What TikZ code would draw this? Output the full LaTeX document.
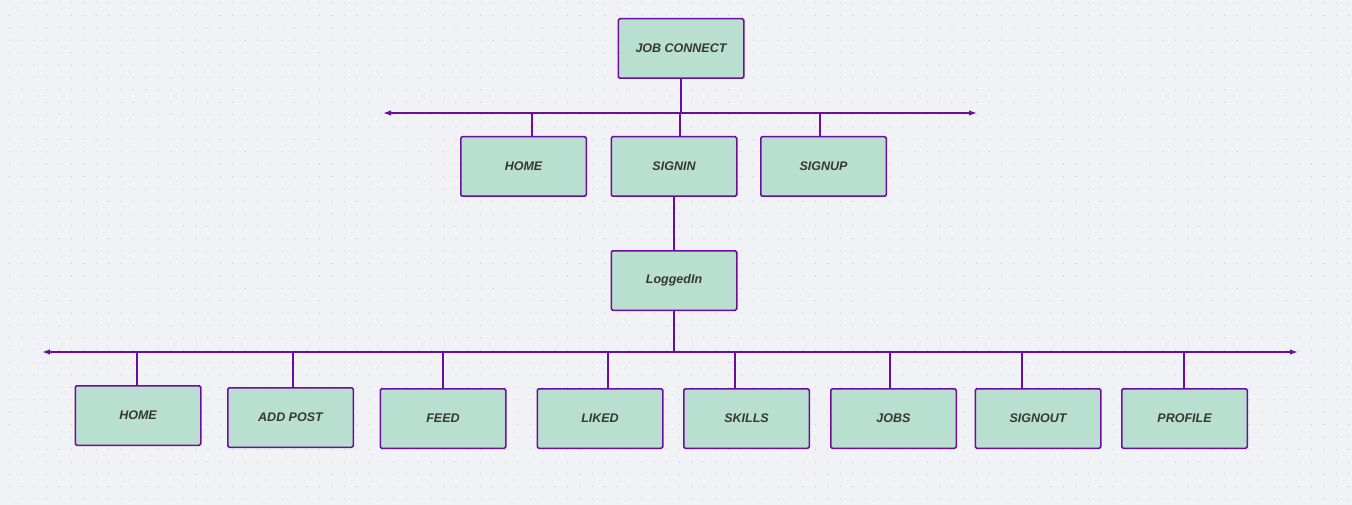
\documentclass[tikz,border=0pt]{standalone}
\usepackage{fontspec}
\setmainfont{Liberation Sans}
\usetikzlibrary{arrows.meta}
\definecolor{bgcol}{RGB}{241,242,245}
\definecolor{dotcol}{RGB}{205,207,212}
\definecolor{boxfill}{RGB}{184,223,207}
\definecolor{boxline}{RGB}{108,12,160}
\definecolor{textcol}{RGB}{55,55,55}
\begin{document}
\begin{tikzpicture}[x=1pt,y=-1pt,
    page/.style={minimum width=125.5pt,minimum height=59.5pt,draw=boxline,fill=boxfill,
      line width=1.5pt,rounded corners=1.5pt,text=textcol,
      font=\fontsize{12.5}{15}\selectfont\bfseries\itshape},
    link/.style={draw=boxline,line width=1.4pt},
    bus/.style={link,{Latex[length=8pt,width=5.5pt]}-{Latex[length=8pt,width=5.5pt]}}]
      \fill[bgcol] (0,0) rectangle (1352,505);
      \useasboundingbox (0,0) rectangle (1352,505);
      \foreach \i in {0,...,108}
        \foreach \j in {0,...,40}
          \fill[dotcol] (9.5+12.4*\i,3+12.4*\j) circle (0.7pt);

      \node[page] (job)     at (681,48.5)    {JOB CONNECT};
      \node[page] (home)    at (523.5,166.5) {HOME};
      \node[page] (signin)  at (674,166.5)   {SIGNIN};
      \node[page] (signup)  at (823.5,166.5) {SIGNUP};
      \node[page] (logged)  at (674,280.5)   {LoggedIn};

      \node[page] (uhome)   at (138,415.5)   {HOME};
      \node[page] (addpost) at (290.5,417.5) {ADD POST};
      \node[page] (feed)    at (443,418.5)   {FEED};
      \node[page] (liked)   at (600,418.5)   {LIKED};
      \node[page] (skills)  at (746.5,418.5) {SKILLS};
      \node[page] (jobs)    at (893.5,418.5) {JOBS};
      \node[page] (signout) at (1038,418.5)  {SIGNOUT};
      \node[page] (profile) at (1184.5,418.5){PROFILE};

      % top bus
      \coordinate (tl) at (383,113);
      \coordinate (tr) at (977,113);
      \coordinate (th) at (532,113);
      \coordinate (ti) at (680,113);
      \coordinate (tu) at (820,113);
      \path[bus] (tl) -- (tr);
      \path[link] (job.south) -- (job.south |- tl)
                  (th) -- (th |- home.north)
                  (ti) -- (ti |- signin.north)
                  (tu) -- (tu |- signup.north)
                  (signin) -- (logged);

      % bottom bus
      \coordinate (bl) at (42,352);
      \coordinate (br) at (1298,352);
      \path[bus] (bl) -- (br);
      \path[link] (logged.south) -- (logged.south |- bl);
      \foreach \n/\x in {uhome/137,addpost/293,feed/443,liked/608,skills/735,jobs/890,signout/1022,profile/1184}
        \path[link] (\x,352) -- (\x,352 |- \n.north);
\end{tikzpicture}
\end{document}
